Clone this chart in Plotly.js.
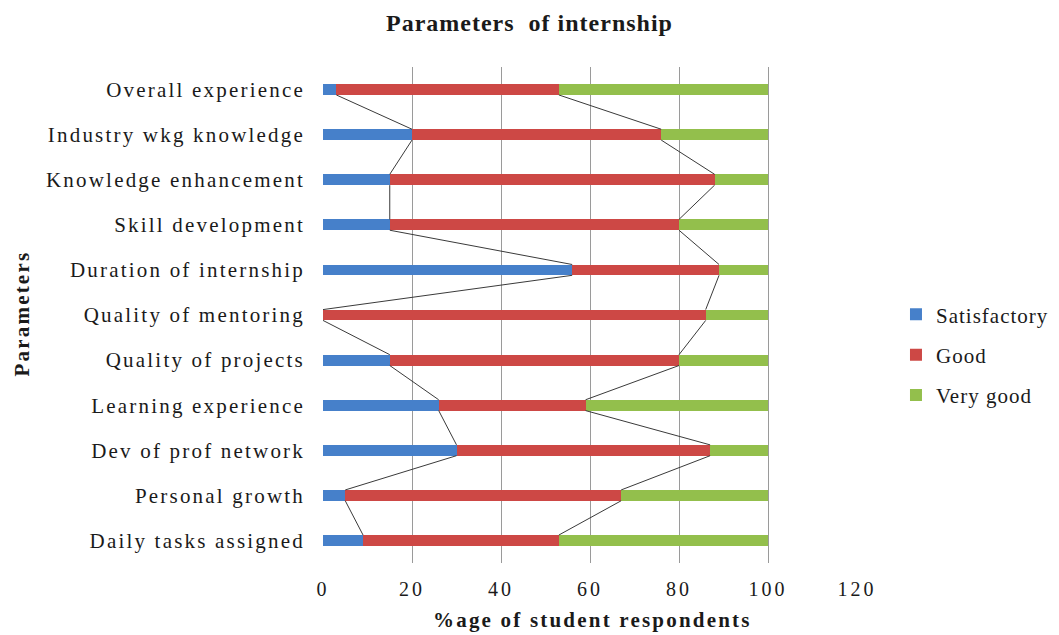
<!DOCTYPE html>
<html>
<head>
<meta charset="utf-8">
<script src="https://cdn.plot.ly/plotly-3.0.1.min.js"></script>
<style>
html,body{margin:0;padding:0;background:#fff;}
#chart{width:1059px;height:635px;}
.ytick text{letter-spacing:2.2px;}
.x2tick text, .xtick text{letter-spacing:3px;}
.legendtext{letter-spacing:1px;}
.gtitle{letter-spacing:1px;}
.annotation-text{letter-spacing:2.2px;}
</style>
</head>
<body>
<div id="chart"></div>
<script>
// Categories listed bottom to top (as drawn)
const categories = [
  "Daily tasks assigned",
  "Personal growth",
  "Dev of prof network",
  "Learning experience",
  "Quality of projects",
  "Quality of mentoring",
  "Duration of internship",
  "Skill development",
  "Knowledge enhancement",
  "Industry wkg knowledge",
  "Overall experience"
];
const satisfactory = [9, 5, 30, 26, 15, 0, 56, 15, 15, 20, 3];
const good         = [44, 62, 57, 33, 65, 86, 33, 65, 73, 56, 50];
const veryGood     = [47, 33, 13, 41, 20, 14, 11, 20, 12, 24, 47];
const seriesNames = ["Satisfactory", "Good", "Very good"];
const xTickVals = [0, 20, 40, 60, 80, 100, 120];

const colors = ["#4680CA", "#CD4845", "#93BF4C"];
const barWidth = 0.24;
const font = "Liberation Serif";

const yIdx = categories.map((_, i) => i);
const series = [satisfactory, good, veryGood];

const traces = series.map((vals, s) => ({
  type: "bar",
  orientation: "h",
  name: seriesNames[s],
  x: vals,
  y: yIdx,
  width: barWidth,
  marker: {color: colors[s], line: {width: 0}},
  legendgroup: "g" + s,
  hoverinfo: "x+name"
}));

// Series lines (connect cumulative ends of adjacent bars)
const cum1 = satisfactory.slice();
const cum2 = satisfactory.map((v, i) => v + good[i]);
[cum1, cum2].forEach(cum => {
  const lx = [], ly = [];
  for (let k = 0; k < categories.length - 1; k++) {
    lx.push(cum[k + 1], cum[k], null);
    ly.push(k + 1 - barWidth / 2, k + barWidth / 2, null);
  }
  traces.push({
    type: "scatter",
    mode: "lines",
    x: lx,
    y: ly,
    xaxis: "x2",
    line: {color: "#3a3a3a", width: 1},
    showlegend: false,
    hoverinfo: "skip"
  });
});

const layout = {
  width: 1059,
  height: 635,
  paper_bgcolor: "#ffffff",
  plot_bgcolor: "#ffffff",
  margin: {l: 323, r: 202, t: 67, b: 72, autoexpand: false},
  barmode: "stack",
  font: {family: font, size: 20, color: "#1a1a1a"},
  title: {
    text: "<b>Parameters  of internship</b>",
    font: {family: font, size: 24, color: "#1a1a1a"},
    xref: "container", x: 0.5, xanchor: "center",
    yref: "container", y: 0.965, yanchor: "middle"
  },
  xaxis: {
    range: [0, 120],
    tickvals: xTickVals.filter(v => v <= 100),
    showticklabels: false,
    showgrid: true,
    gridcolor: "#9a9a9a",
    gridwidth: 1,
    zeroline: false,
    showline: false,
    ticks: "",
    automargin: false,
    fixedrange: true
  },
  xaxis2: {
    overlaying: "x",
    anchor: "y",
    side: "bottom",
    range: [0, 120],
    tickvals: xTickVals,
    showgrid: false,
    zeroline: false,
    showline: false,
    ticks: "",
    ticklabelstandoff: 12,
    automargin: false,
    tickfont: {family: font, size: 20, color: "#1a1a1a"},
    fixedrange: true
  },
  yaxis: {
    range: [-0.5, 10.5],
    tickvals: yIdx,
    ticktext: categories,
    showgrid: false,
    zeroline: false,
    showline: false,
    ticks: "",
    ticklabelstandoff: 17,
    automargin: false,
    tickfont: {family: font, size: 21, color: "#1a1a1a"},
    fixedrange: true
  },
  annotations: [
    {
      text: "<b>%age of student respondents</b>",
      xref: "paper", yref: "paper",
      x: 0.504, y: -0.115, xanchor: "center", yanchor: "middle",
      showarrow: false,
      font: {family: font, size: 21, color: "#1a1a1a"}
    },
    {
      text: "<b>Parameters</b>",
      xref: "paper", yref: "paper",
      x: -0.5637, y: 0.503, xanchor: "center", yanchor: "middle",
      textangle: -90,
      showarrow: false,
      font: {family: font, size: 21, color: "#1a1a1a"}
    }
  ],
  legend: {
    x: 1.073, xanchor: "left",
    y: 0.42, yanchor: "middle",
    traceorder: "grouped",
    tracegroupgap: 10,
    font: {family: font, size: 21, color: "#1a1a1a"},
    itemwidth: 30,
    bgcolor: "rgba(0,0,0,0)"
  },
  showlegend: true
};

Plotly.newPlot("chart", traces, layout, {displayModeBar: false, staticPlot: true});
</script>
</body>
</html>
